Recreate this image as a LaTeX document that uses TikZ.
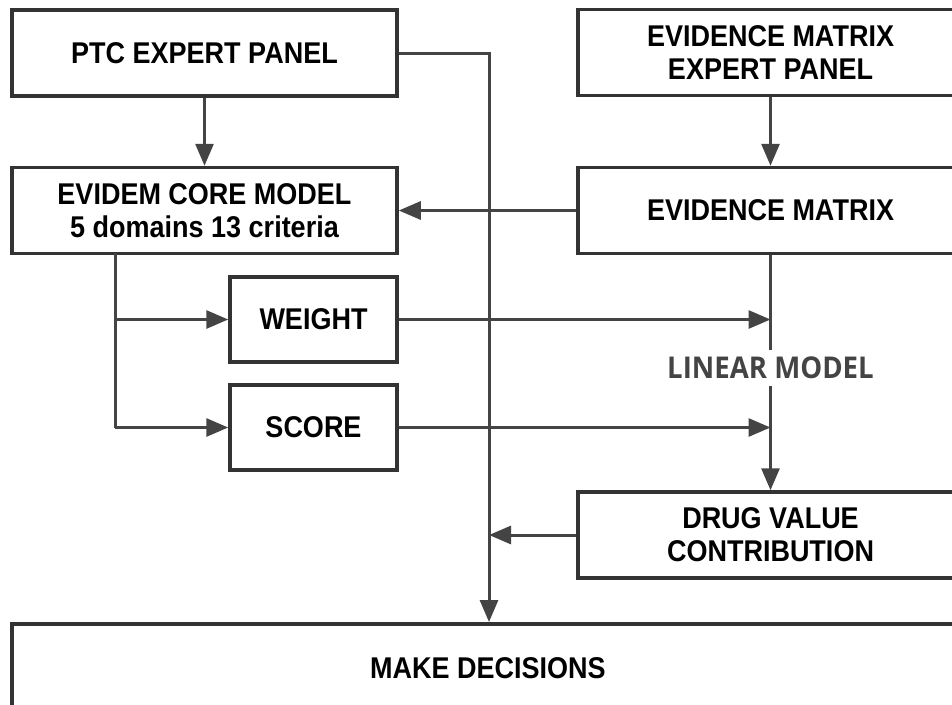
\documentclass[tikz,border=0pt]{standalone}
\usepackage{fontspec}
\setmainfont{Liberation Sans}
\newfontfamily\boxfont{Liberation Sans}[FakeStretch=0.9]
\newfontfamily\lmfont{Open Sans}[FakeStretch=0.92]
\usetikzlibrary{arrows.meta}
\definecolor{linec}{HTML}{444444}
\definecolor{boxc}{HTML}{333333}
\tikzset{
  box/.style={draw=boxc, line width=3.5pt, fill=white, minimum width=385pt, minimum height=86pt,
    align=center, inner sep=0pt, font=\fontsize{30}{33}\boxfont\bfseries, text=black},
  smallbox/.style={box, minimum width=167pt, minimum height=85pt},
  conn/.style={draw=linec, line width=3pt},
  arr/.style={conn, -{Triangle[length=22pt,width=18pt]}},
}
\begin{document}
\begin{tikzpicture}[x=1pt,y=-1pt]
\useasboundingbox (0,0) rectangle (952,704);
\clip (0,0) rectangle (952,704);
\node[box] (ptc) at (204.5,53) {PTC EXPERT PANEL};
\node[box] (evidem) at (204.5,210.5) {EVIDEM CORE MODEL\\5 domains 13 criteria};
\node[box] (emep) at (770.5,52.5) {EVIDENCE MATRIX\\EXPERT PANEL};
\node[box] (em) at (770.5,210.5) {EVIDENCE MATRIX};
\node[smallbox] (weight) at (313.5,319.5) {WEIGHT};
\node[smallbox] (score) at (313.5,427.5) {SCORE};
\node[box] (drug) at (770.5,535) {DRUG VALUE\\CONTRIBUTION};
\node[box, minimum width=952pt, minimum height=96pt, anchor=north] (make) at (488,622) {};
\node[font=\fontsize{30}{33}\boxfont\bfseries] (maketext) at (488,668) {MAKE DECISIONS};
\node[text=linec, font=\fontsize{30}{33}\lmfont\bfseries, inner sep=0pt, minimum height=35pt] (lm) at (770.5,368) {LINEAR MODEL};

\coordinate (ptcturn) at (489,53);
\coordinate (drugin) at (489,535);
\coordinate (split) at (115,253);
\coordinate (wjoin) at (770.5,319.5);
\coordinate (sjoin) at (770.5,427.5);

\draw[arr] (ptc.south) -- (evidem.north);
\draw[arr] (ptc.east) -- (ptcturn) -- (ptcturn |- make.north);
\draw[arr] (emep.south) -- (em.north);
\draw[arr] (em.west) -- (evidem.east);
\draw[conn] (split) -- (split |- score.west);
\draw[arr] (split |- weight.west) -- (weight.west);
\draw[arr] (split |- score.west) -- (score.west);
\draw[arr] (weight.east) -- (wjoin);
\draw[arr] (score.east) -- (sjoin);
\draw[conn] (em.south) -- (lm.north);
\draw[arr] (lm.south) -- (drug.north);
\draw[arr] (drug.west) -- (drugin);
\end{tikzpicture}
\end{document}
